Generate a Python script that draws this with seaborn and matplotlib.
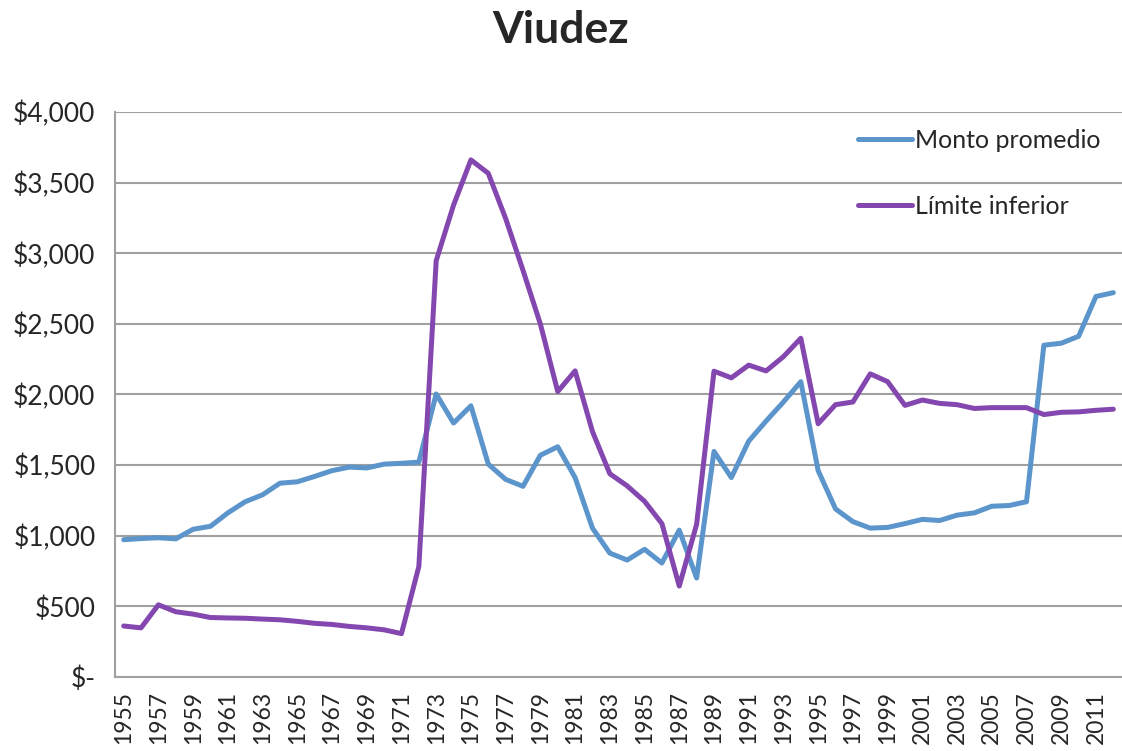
import numpy as np
import pandas as pd
import seaborn as sns
import matplotlib.pyplot as plt
from matplotlib.ticker import FuncFormatter

# years on the x axis
years = list(range(1955, 2013))

# average amount (blue)
monto_promedio = [972, 980, 986, 978, 1046, 1067, 1162, 1241, 1290, 1372,
                  1382, 1420, 1461, 1486, 1480, 1507, 1513, 1521, 2004, 1798,
                  1920, 1507, 1399, 1350, 1570, 1630, 1412, 1054, 877, 828,
                  904, 807, 1040, 701, 1597, 1412, 1670, 1812, 1947, 2091,
                  1461, 1190, 1100, 1054, 1059, 1086, 1116, 1108, 1146, 1162,
                  1209, 1214, 1241, 2349, 2363, 2412, 2694, 2721]

# lower limit (purple)
limite_inferior = [361, 348, 511, 462, 445, 421, 418, 416, 410, 405,
                   394, 380, 372, 358, 348, 334, 307, 782, 2947, 3341,
                   3661, 3566, 3246, 2879, 2499, 2021, 2167, 1738, 1439, 1353,
                   1244, 1086, 644, 1081, 2165, 2118, 2208, 2167, 2268, 2398,
                   1793, 1928, 1947, 2146, 2091, 1923, 1961, 1937, 1928, 1901,
                   1907, 1907, 1907, 1858, 1874, 1877, 1888, 1896]

series_names = ['Monto promedio', 'Límite inferior']
colors = ['#5B95CB', '#8447AF']

df = pd.DataFrame({'year': years,
                   series_names[0]: monto_promedio,
                   series_names[1]: limite_inferior})
long_df = df.melt(id_vars='year', var_name='serie', value_name='valor')

sns.set_style('white')
plt.rcParams['font.family'] = ['Lato', 'DejaVu Sans']

fig = plt.figure(figsize=(11.22, 7.51), dpi=100)
ax = fig.add_axes([115 / 1122, 1 - 677 / 751, 1 - 115 / 1122, (677 - 112) / 751])

sns.lineplot(data=long_df, x='year', y='valor', hue='serie',
             palette=dict(zip(series_names, colors)), linewidth=3.6,
             ax=ax, legend=True)

ax.set_xlim(1954.5, 2012.28)
ax.set_ylim(0, 4000)
ax.set_xlabel('')
ax.set_ylabel('')

# y axis: accounting style dollars
ax.set_yticks(np.arange(0, 4001, 500))
ax.yaxis.set_major_formatter(FuncFormatter(lambda v, p: '$-' if v == 0 else '${:,.0f}'.format(v)))
ax.grid(axis='y', color='#A0A0A0', linewidth=1.5)
ax.set_axisbelow(True)

# x axis: label every other year, tick marks on category boundaries
ax.set_xticks(years[::2])
ax.set_xticklabels([str(y) for y in years[::2]], rotation=90)
ax.set_xticks(np.arange(1954.5, 2013, 1), minor=True)
ax.tick_params(axis='x', which='major', length=0, pad=10, labelsize=16.5)
ax.tick_params(axis='x', which='minor', length=7, width=1.3, color='#A0A0A0', direction='out')
ax.tick_params(axis='y', which='major', length=7, width=1.3, color='#A0A0A0', labelsize=19, pad=7)

for side in ['top', 'right']:
    ax.spines[side].set_visible(False)
for side in ['left', 'bottom']:
    ax.spines[side].set_color('#A0A0A0')
    ax.spines[side].set_linewidth(1.5)

leg = ax.legend(loc='upper left', bbox_to_anchor=(858 / 1122, 1 - 129 / 751),
                bbox_transform=fig.transFigure, frameon=False, fontsize=18,
                handlelength=2.15, handletextpad=0.12, labelspacing=1.72,
                borderpad=0, borderaxespad=0)
for line in leg.get_lines():
    line.set_linewidth(3.6)

fig.suptitle('Viudez', fontsize=32, fontweight='bold', y=1 - 10 / 751, va='top')

plt.savefig('out.png', dpi=100)
